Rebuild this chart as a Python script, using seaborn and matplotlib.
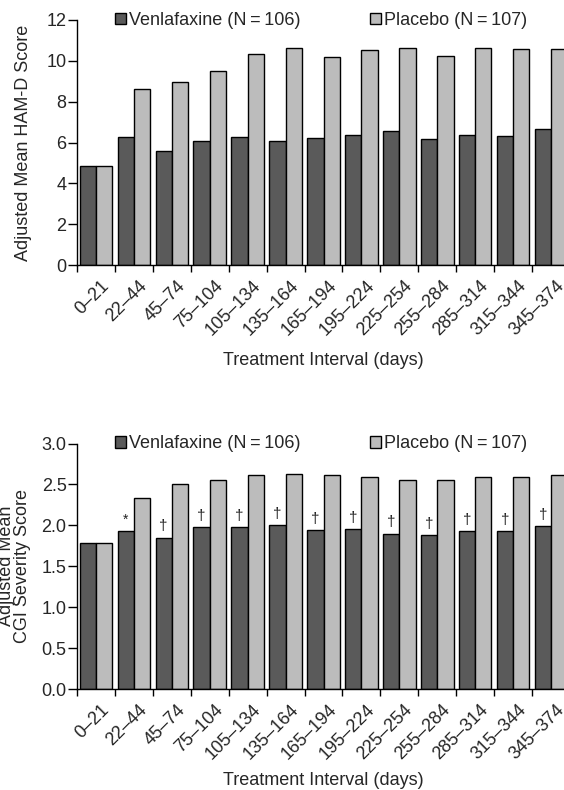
import numpy as np
import pandas as pd
import seaborn as sns
import matplotlib.pyplot as plt
from matplotlib.patches import Patch

# Data
intervals = ["0\u201321", "22\u201344", "45\u201374", "75\u2013104", "105\u2013134", "135\u2013164",
             "165\u2013194", "195\u2013224", "225\u2013254", "255\u2013284", "285\u2013314",
             "315\u2013344", "345\u2013374"]
groups = ["Venlafaxine (N\u2009=\u2009106)", "Placebo (N\u2009=\u2009107)"]

hamd_venla = [4.85, 6.29, 5.58, 6.09, 6.29, 6.09, 6.22, 6.38, 6.55, 6.19, 6.37, 6.30, 6.64]
hamd_placebo = [4.85, 8.60, 8.95, 9.49, 10.35, 10.64, 10.20, 10.55, 10.61, 10.25, 10.61, 10.60, 10.58]

cgi_venla = [1.79, 1.93, 1.85, 1.98, 1.98, 2.00, 1.94, 1.95, 1.90, 1.88, 1.93, 1.93, 1.99]
cgi_placebo = [1.79, 2.33, 2.51, 2.55, 2.61, 2.63, 2.61, 2.59, 2.56, 2.56, 2.59, 2.59, 2.61]
cgi_marks = ["", "*", "\u2020", "\u2020", "\u2020", "\u2020", "\u2020", "\u2020", "\u2020",
             "\u2020", "\u2020", "\u2020", "\u2020"]

colors = ["#5a5a5a", "#bcbcbc"]

sns.set_style("ticks")
plt.rcParams['font.family'] = ['Liberation Sans', 'DejaVu Sans']
plt.rcParams['font.size'] = 13


def make_df(v, p):
    return pd.DataFrame({
        'interval': intervals * 2,
        'score': v + p,
        'group': [groups[0]] * len(intervals) + [groups[1]] * len(intervals),
    })


def draw_panel(ax, df, ymax, yticks, yfmt, ylabel, label_x, xlabel_y):
    sns.barplot(data=df, x='interval', y='score', hue='group', order=intervals,
                hue_order=groups, palette=colors, edgecolor='black', linewidth=1.0,
                width=0.86, errorbar=None, ax=ax)
    ax.set_xlim(-0.5, len(intervals) - 0.5)
    ax.set_ylim(0, ymax)
    ax.set_yticks(yticks)
    ax.set_yticklabels([yfmt.format(t) for t in yticks])
    ax.set_xticks(np.arange(len(intervals)) + 0.44)
    ax.set_xticklabels(intervals, rotation=45, ha='right', va='top')
    ax.set_xticks(np.arange(len(intervals) + 1) - 0.5, minor=True)
    ax.tick_params(axis='x', which='major', length=0, pad=9, labelsize=13)
    ax.tick_params(axis='x', which='minor', length=5, width=1.0, color='black')
    ax.tick_params(axis='y', length=6.5, width=1.0, pad=1, labelsize=13, color='black')
    for s in ['top', 'right']:
        ax.spines[s].set_visible(False)
    for s in ['left', 'bottom']:
        ax.spines[s].set_linewidth(1.0)
        ax.spines[s].set_color('black')
    ax.set_ylabel(ylabel, fontsize=13, linespacing=0.95)
    ax.yaxis.set_label_coords(label_x, 0.5)
    ax.set_xlabel("Treatment Interval (days)", fontsize=13)
    ax.xaxis.set_label_coords(0.5, xlabel_y)
    ax.xaxis.label.set_va('center')

    handles = [Patch(facecolor=c, edgecolor='black', linewidth=1.0) for c in colors]
    ax.legend(handles, groups, ncol=2, loc='center left', bbox_to_anchor=(0.077, 0.998),
              frameon=False, handlelength=0.62, handleheight=0.62, handletextpad=0.15,
              columnspacing=3.85, borderpad=0, borderaxespad=0, fontsize=13)


fig = plt.figure(figsize=(5.64, 7.90), dpi=100)
ax1 = fig.add_axes([77 / 564, 1 - 265 / 790, 493 / 564, 245 / 790])
ax2 = fig.add_axes([77 / 564, 1 - 689 / 790, 493 / 564, 245.5 / 790])

draw_panel(ax1, make_df(hamd_venla, hamd_placebo), 12, [0, 2, 4, 6, 8, 10, 12], "{:.0f}",
           "Adjusted Mean HAM-D Score", -0.091, -0.388)
draw_panel(ax2, make_df(cgi_venla, cgi_placebo), 3.0, [0, 0.5, 1.0, 1.5, 2.0, 2.5, 3.0], "{:.1f}",
           "Adjusted Mean\nCGI Severity Score", -0.093, -0.371)

# significance marks above venlafaxine bars
for bar, mark in zip(ax2.containers[0], cgi_marks):
    if mark:
        ax2.annotate(mark, (bar.get_x() + bar.get_width() / 2, bar.get_height()),
                     xytext=(0, 3), textcoords='offset points', ha='center', va='bottom',
                     fontsize=11 if mark != "*" else 10, color='#222222')

fig.savefig('out.png', dpi=100)
